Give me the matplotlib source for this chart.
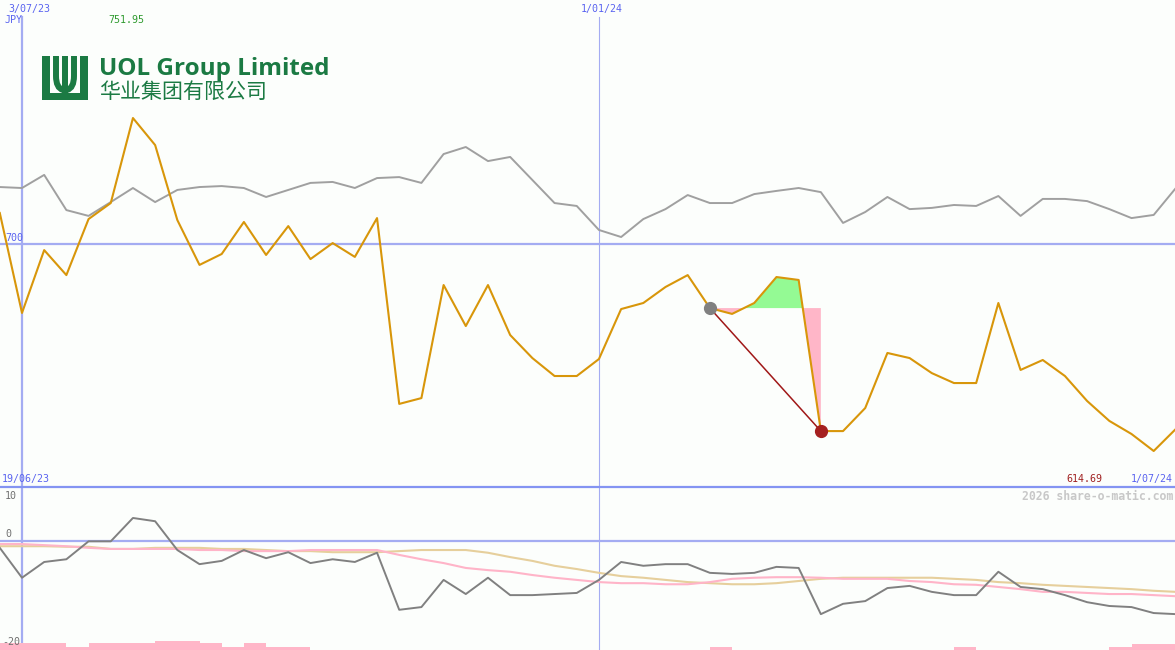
import numpy as np
import matplotlib.pyplot as plt
from matplotlib.patches import Rectangle, PathPatch
from matplotlib.path import Path

# weekly closes, week 0 = 3/07/23, week 26 = 1/01/24, week 52 = 1/07/24
weeks = np.arange(-1, 53)
price = [712.8, 671.6, 697.5, 687.2, 710.3, 716.9, 751.95, 740.8, 709.9, 691.4,
         695.9, 709.1, 695.5, 707.4, 693.8, 700.4, 694.7, 710.7, 634.1, 636.5,
         683.1, 666.2, 683.1, 662.5, 653.0, 645.6, 645.6, 652.6, 673.2, 675.7,
         682.3, 687.2, 673.6, 671.2, 675.7, 686.4, 685.2, 622.9, 622.9, 632.4,
         655.1, 653.0, 646.8, 642.7, 642.7, 675.7, 648.1, 652.2, 645.6, 635.3,
         627.1, 621.7, 614.69, 623.8]
# comparison index, rebased onto the price scale
index = [723.5, 723.1, 728.5, 714.0, 711.6, 717.3, 723.1, 717.3, 722.3, 723.5,
         723.9, 723.1, 719.4, 722.3, 725.2, 725.6, 723.1, 727.2, 727.6, 725.2,
         737.1, 740.0, 734.2, 735.9, 726.4, 716.9, 715.7, 705.8, 702.9, 710.3,
         714.4, 720.2, 716.9, 716.9, 720.6, 721.9, 723.1, 721.4, 708.7, 713.2,
         719.4, 714.4, 714.9, 716.1, 715.7, 719.8, 711.6, 718.6, 718.6, 717.7,
         714.4, 710.7, 712.0, 723.1]
# lower panel: momentum and its two averages
mom = [-1.2, -6.7, -3.8, -3.3, 0.0, 0.0, 4.3, 3.7, -1.6, -4.2,
       -3.6, -1.6, -3.1, -2.0, -4.0, -3.3, -3.8, -2.1, -12.6, -12.1,
       -7.1, -9.7, -6.7, -9.9, -9.9, -9.7, -9.5, -7.1, -3.8, -4.5,
       -4.2, -4.2, -5.8, -6.0, -5.8, -4.7, -4.9, -13.4, -11.5, -11.0,
       -8.6, -8.2, -9.3, -9.9, -9.9, -5.6, -8.4, -8.8, -9.9, -11.2,
       -11.9, -12.1, -13.2, -13.4]
avg_fast = [-0.5, -0.5, -0.7, -0.9, -1.2, -1.4, -1.4, -1.4, -1.4, -1.6,
            -1.6, -1.8, -1.8, -1.8, -1.6, -1.6, -1.6, -1.6, -2.5, -3.3,
            -4.0, -4.9, -5.3, -5.6, -6.2, -6.7, -7.1, -7.5, -7.7, -7.7,
            -7.9, -7.9, -7.5, -6.9, -6.7, -6.6, -6.6, -6.7, -6.9, -6.9,
            -6.9, -7.3, -7.5, -7.9, -8.0, -8.4, -8.8, -9.3, -9.3, -9.5,
            -9.7, -9.7, -9.9, -10.1]
avg_slow = [-0.9, -0.9, -0.9, -1.0, -1.0, -1.4, -1.4, -1.2, -1.2, -1.2,
            -1.4, -1.4, -1.6, -1.8, -1.8, -2.0, -2.0, -2.0, -1.8, -1.6,
            -1.6, -1.6, -2.1, -2.9, -3.6, -4.5, -5.1, -5.8, -6.4, -6.7,
            -7.1, -7.5, -7.7, -7.9, -7.9, -7.7, -7.3, -6.9, -6.7, -6.7,
            -6.7, -6.7, -6.7, -6.9, -7.1, -7.5, -7.7, -8.0, -8.2, -8.4,
            -8.6, -8.8, -9.1, -9.3]
# relative weekly volume, bar k spans week k..k+1
vol = [7, 7, 7, 3, 7, 7, 7, 9, 9, 7, 3, 7, 3, 3] + [0] * 18 + [3] + [0] * 10 + [3] + [0] * 6 + [3, 6, 6]
p_start, p_end = 31, 36   # highlighted move

bg = '#fcfefc'
blue_l = '#a4acf2'
blue_t = '#5a64f0'
orange = '#d8960a'
mono = 'DejaVu Sans Mono'

W, H = 1175, 650
fig = plt.figure(figsize=(W / 100, H / 100), dpi=100)
fig.patch.set_facecolor(bg)
ax = fig.add_axes([0, 163 / H, 1, 487 / H])
ax2 = fig.add_axes([0, 0, 1, 163 / H])
ax3 = ax2.twinx()
for a in (ax, ax2, ax3):
    a.set_facecolor('none')
    a.set_xlim(-0.991, 51.96)
    a.set_xticks([])
    a.set_yticks([])
    for s in a.spines.values():
        s.set_visible(False)
ax.set_facecolor(bg)
ax2.set_facecolor(bg)
ax.set_ylim(599.85, 800.6)
ax2.set_ylim(-20, 10)
ax3.set_ylim(0, 163)

# grid lines
ax.axhline(700, color=blue_l, lw=1.6, zorder=1)
ax.axvline(0, ymax=1 - 17 / 487, color=blue_l, lw=1.6, zorder=1)
ax.axvline(26, ymax=1 - 17 / 487, color=blue_l, lw=0.8, zorder=1)
ax2.axhline(0, color=blue_l, lw=1.6, zorder=1)
ax2.axvline(0, color=blue_l, lw=1.6, zorder=1)
ax2.axvline(26, color=blue_l, lw=0.8, zorder=1)

# main panel
ax.plot(weeks, index, color='#a0a0a0', lw=1.4, zorder=2)
seg = slice(p_start + 1, p_end + 2)
xs, ys = weeks[seg], np.array(price[seg])
base = price[p_start + 1]
ax.fill_between(xs, ys, base, where=ys >= base, interpolate=True, color='#94fa94', lw=0, zorder=2)
ax.fill_between(xs, ys, base, where=ys <= base, interpolate=True, color='#ffb6c8', lw=0, zorder=2)
ax.plot(weeks, price, color=orange, lw=1.5, zorder=3)
ax.plot([weeks[p_start + 1], weeks[p_end + 1]], [price[p_start + 1], price[p_end + 1]],
        color='#a01818', lw=1.1, zorder=4)
ax.plot(weeks[p_start + 1], price[p_start + 1], 'o', color='#808080', ms=8.5, zorder=5)
ax.plot(weeks[p_end + 1], price[p_end + 1], 'o', color='#a52020', ms=8.5, zorder=5)

# lower panel
ax3.bar(weeks[:-1], vol, width=1, align='edge', color='#ffb6c8', lw=0, zorder=1)
ax2.plot(weeks, avg_slow, color='#e6cf9c', lw=1.5, zorder=2)
ax2.plot(weeks, avg_fast, color='#ffb4c8', lw=1.5, zorder=2)
ax2.plot(weeks, mom, color='#808080', lw=1.4, zorder=3)

# overlay in pixel coordinates for labels and logo
ov = fig.add_axes([0, 0, 1, 1])
ov.set_xlim(0, W)
ov.set_ylim(H, 0)
ov.axis('off')
ov.patch.set_alpha(0)
ov.axhline(487, color='#8494f2', lw=1.6)

fs = 7.2
ov.text(8, 9, '3/07/23', color=blue_t, family=mono, fontsize=fs, va='center')
ov.text(5, 20, 'JPY', color=blue_t, family=mono, fontsize=fs, va='center')
ov.text(108, 20, '751.95', color='#2e9a2e', family=mono, fontsize=fs, va='center')
ov.text(602, 9, '1/01/24', color=blue_t, family=mono, fontsize=fs, va='center', ha='center')
ov.text(5, 238, '700', color=blue_t, family=mono, fontsize=fs, va='center')
ov.text(2, 479, '19/06/23', color=blue_t, family=mono, fontsize=fs, va='center')
ov.text(1102, 479, '614.69', color='#a02020', family=mono, fontsize=fs, va='center', ha='right')
ov.text(1173, 479, '1/07/24', color=blue_t, family=mono, fontsize=fs, va='center', ha='right')
ov.text(1173, 496, '2026 share-o-matic.com', color='#c8c8c8', family=mono, fontsize=8.3,
        weight='bold', va='center', ha='right')
ov.text(5, 496, '10', color='#707070', family=mono, fontsize=fs, va='center')
ov.text(5, 534, '0', color='#707070', family=mono, fontsize=fs, va='center')
ov.text(2, 642, '-20', color='#707070', family=mono, fontsize=fs, va='center')

# logo
green = '#1b7a43'
for x0, y0, w, h in [(42, 93, 46, 7), (42, 56, 8, 40), (80, 56, 8, 40), (62, 56, 6, 38)]:
    ov.add_patch(Rectangle((x0, y0), w, h, color=green, lw=0))
for xa, xb in [(56, 63), (74, 67)]:
    path = Path([(xa, 56), (xa, 76), (xa, 88), (xb, 90)],
                [Path.MOVETO, Path.LINETO, Path.CURVE3, Path.CURVE3])
    ov.add_patch(PathPatch(path, fill=False, ec=green, lw=4.3, capstyle='butt'))

t1 = ov.text(99, 75, 'UOL Group Limited', color=green, fontsize=16, weight='bold',
             family='Open Sans', va='baseline')
t2 = ov.text(99, 98, '华业集团有限公司', color=green, fontsize=15, weight='medium',
             family=['Noto Sans CJK SC', 'DejaVu Sans'], va='baseline')
fig.canvas.draw()
r = fig.canvas.get_renderer()
for t, target in [(t1, 231), (t2, 168)]:
    wpx = t.get_window_extent(r).width
    t.set_fontsize(t.get_fontsize() * target / wpx)

fig.savefig('out.png', dpi=100, facecolor=bg)
